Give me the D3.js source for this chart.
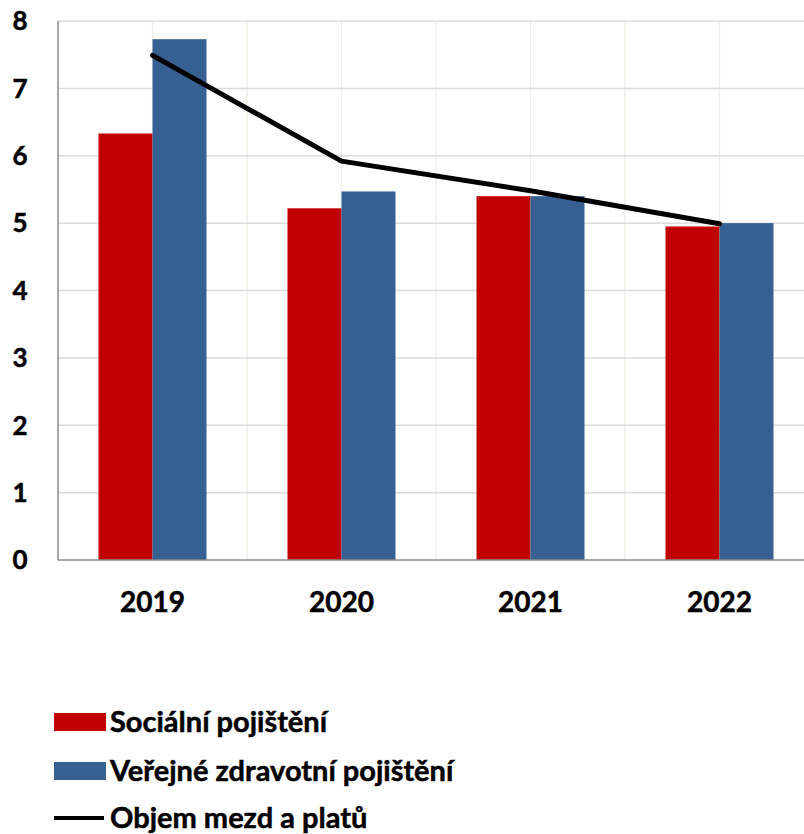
<!DOCTYPE html>
<html>
<head>
<meta charset="utf-8">
<script src="https://cdn.jsdelivr.net/npm/d3@7"></script>
<style>
  html, body { margin: 0; padding: 0; background: #fff; }
  svg { display: block; font-family: Lato, "Open Sans", sans-serif; font-weight: bold; }
  text { fill: #000; stroke: #000; stroke-width: 0.5px; }
</style>
</head>
<body>
<svg id="chart" width="804" height="834"></svg>
<script>
// data
const years = ["2019", "2020", "2021", "2022"];
const socialni = [6.33, 5.22, 5.40, 4.95];
const zdravotni = [7.73, 5.47, 5.40, 5.00];
const mzdy = [7.49, 5.92, 5.48, 4.99];
const yTicks = [0, 1, 2, 3, 4, 5, 6, 7, 8];
const seriesNames = ["Sociální pojištění", "Veřejné zdravotní pojištění", "Objem mezd a platů"];
const colors = ["#c00000", "#366092", "#000000"];

const svg = d3.select("#chart");
const plot = { left: 58, right: 814, top: 21, bottom: 560 };

const x = d3.scaleBand().domain(years).range([plot.left, plot.right]).padding(0);
const y = d3.scaleLinear().domain([0, 8]).range([plot.bottom, plot.top]);
const barW = 54;

// vertical gridlines at band centers and boundaries
const half = x.bandwidth() / 2;
const vLines = d3.range(1, years.length * 2 + 1).map(k => plot.left + k * half);
svg.append("g").selectAll("line").data(vLines).join("line")
    .attr("x1", d => d).attr("x2", d => d)
    .attr("y1", plot.top).attr("y2", plot.bottom)
    .attr("stroke", "#efeee6").attr("stroke-width", 1.3);

// horizontal gridlines
svg.append("g").selectAll("line").data(yTicks.slice(1)).join("line")
    .attr("x1", plot.left).attr("x2", plot.right)
    .attr("y1", d => y(d)).attr("y2", d => y(d))
    .attr("stroke", "#dcdcdc").attr("stroke-width", 1.5);

// bars
const groups = svg.append("g").selectAll("g").data(years).join("g");
groups.append("rect")
    .attr("x", d => x(d) + half - barW)
    .attr("width", barW)
    .attr("y", (d, i) => y(socialni[i]))
    .attr("height", (d, i) => plot.bottom - y(socialni[i]))
    .attr("fill", colors[0]);
groups.append("rect")
    .attr("x", d => x(d) + half)
    .attr("width", barW)
    .attr("y", (d, i) => y(zdravotni[i]))
    .attr("height", (d, i) => plot.bottom - y(zdravotni[i]))
    .attr("fill", colors[1]);

// axes lines
svg.append("line").attr("x1", plot.left).attr("x2", plot.left).attr("y1", plot.top).attr("y2", plot.bottom)
    .attr("stroke", "#8c8c8c").attr("stroke-width", 1.5);
svg.append("line").attr("x1", plot.left).attr("x2", plot.right).attr("y1", plot.bottom).attr("y2", plot.bottom)
    .attr("stroke", "#8c8c8c").attr("stroke-width", 1.5);

// line series
const line = d3.line()
    .x((d, i) => x(years[i]) + half)
    .y(d => y(d));
svg.append("path").datum(mzdy)
    .attr("d", line)
    .attr("fill", "none")
    .attr("stroke", colors[2])
    .attr("stroke-width", 5)
    .attr("stroke-linecap", "round")
    .attr("stroke-linejoin", "round");

// y tick labels
svg.append("g").selectAll("text").data(yTicks).join("text")
    .attr("x", 20).attr("y", d => y(d))
    .attr("dy", "0.36em")
    .attr("text-anchor", "middle")
    .attr("font-size", 26)
    .text(d => d);

// x labels
svg.append("g").selectAll("text").data(years).join("text")
    .attr("x", d => x(d) + half).attr("y", 612)
    .attr("text-anchor", "middle")
    .attr("font-size", 28)
    .text(d => d);

// legend
const legend = svg.append("g");
const legY = [722, 771, 818];
legend.append("rect").attr("x", 54).attr("y", legY[0] - 9).attr("width", 52).attr("height", 18).attr("fill", colors[0]);
legend.append("rect").attr("x", 54).attr("y", legY[1] - 9).attr("width", 52).attr("height", 18).attr("fill", colors[1]);
legend.append("line").attr("x1", 54).attr("x2", 104).attr("y1", legY[2]).attr("y2", legY[2])
    .attr("stroke", colors[2]).attr("stroke-width", 4);
legend.selectAll("text").data(seriesNames).join("text")
    .attr("x", 110).attr("y", (d, i) => legY[i])
    .attr("dy", "0.34em")
    .attr("font-size", 29)
    .text(d => d);
</script>
</body>
</html>
